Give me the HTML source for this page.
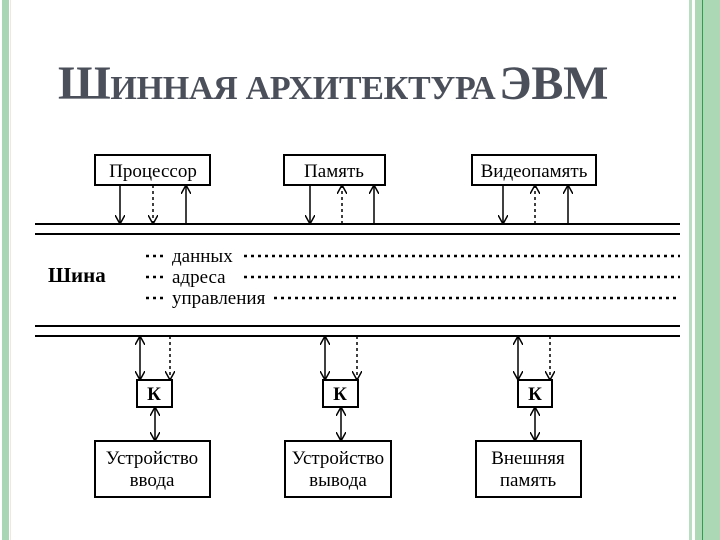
<!DOCTYPE html>
<html><head><meta charset="utf-8"><style>
body{margin:0;width:720px;height:540px;background:#fff;overflow:hidden;position:relative}
.t{position:absolute;left:58px;top:56px;font-family:"Liberation Serif",serif;color:#4a4f5a;font-weight:bold;white-space:nowrap;letter-spacing:-0.3px}
</style></head><body>
<div style="position:absolute;left:2px;top:0;width:7px;height:540px;background:#a9d6b4"></div>
<div style="position:absolute;left:10px;top:0;width:1px;height:540px;background:#f3e6df"></div>
<div style="position:absolute;left:689px;top:0;width:3px;height:540px;background:#b9dcc3"></div>
<div style="position:absolute;left:695px;top:0;width:25px;height:540px;background:#acd8b6"></div>
<div style="position:absolute;left:702px;top:0;width:1px;height:540px;background:#2e9e50"></div>
<div class="t"><span style="font-size:48px">Ш</span><span style="font-size:34px">ИННАЯ АРХИТЕКТУРА</span> <span style="font-size:48px">ЭВМ</span></div>
<svg width="720" height="540" style="position:absolute;left:0;top:0" font-family="Liberation Serif, serif">
<defs>
<marker id="a" markerWidth="10" markerHeight="10" refX="9" refY="5" orient="auto-start-reverse" markerUnits="userSpaceOnUse"><path d="M0,0 L9,5 L0,10" fill="none" stroke="#000" stroke-width="1.5"/></marker>
</defs>
<g fill="none" stroke="#000" stroke-width="2">
<rect x="95" y="155" width="115" height="30"/>
<rect x="284" y="155" width="101" height="30"/>
<rect x="472" y="155" width="124" height="30"/>
<rect x="137" y="380" width="35" height="27"/>
<rect x="323" y="380" width="35" height="27"/>
<rect x="518" y="380" width="34" height="27"/>
<rect x="95" y="441" width="115" height="56"/>
<rect x="285" y="441" width="106" height="56"/>
<rect x="476" y="441" width="105" height="56"/>
<line x1="35" y1="224" x2="680" y2="224"/><line x1="35" y1="234" x2="680" y2="234"/>
<line x1="35" y1="326" x2="680" y2="326"/><line x1="35" y1="336" x2="680" y2="336"/>
</g>
<g stroke="#000" stroke-width="1.5" fill="none">
<line x1="120" y1="185" x2="120" y2="224" marker-end="url(#a)"/>
<line x1="153" y1="185" x2="153" y2="224" stroke-dasharray="3,3" marker-end="url(#a)"/>
<line x1="186" y1="224" x2="186" y2="185" marker-end="url(#a)"/>
<line x1="310" y1="185" x2="310" y2="224" marker-end="url(#a)"/>
<line x1="342" y1="224" x2="342" y2="185" stroke-dasharray="3,3" marker-end="url(#a)"/>
<line x1="374" y1="224" x2="374" y2="185" marker-end="url(#a)"/>
<line x1="503" y1="185" x2="503" y2="224" marker-end="url(#a)"/>
<line x1="535" y1="224" x2="535" y2="185" stroke-dasharray="3,3" marker-end="url(#a)"/>
<line x1="568" y1="224" x2="568" y2="185" marker-end="url(#a)"/>
<line x1="140" y1="336" x2="140" y2="380" marker-start="url(#a)" marker-end="url(#a)"/>
<line x1="170" y1="336" x2="170" y2="380" stroke-dasharray="3,3" marker-end="url(#a)"/>
<line x1="155" y1="407" x2="155" y2="441" marker-start="url(#a)" marker-end="url(#a)"/>
<line x1="325" y1="336" x2="325" y2="380" marker-start="url(#a)" marker-end="url(#a)"/>
<line x1="357" y1="336" x2="357" y2="380" stroke-dasharray="3,3" marker-end="url(#a)"/>
<line x1="341" y1="407" x2="341" y2="441" marker-start="url(#a)" marker-end="url(#a)"/>
<line x1="518" y1="336" x2="518" y2="380" marker-start="url(#a)" marker-end="url(#a)"/>
<line x1="550" y1="336" x2="550" y2="380" stroke-dasharray="3,3" marker-end="url(#a)"/>
<line x1="535" y1="407" x2="535" y2="441" marker-start="url(#a)" marker-end="url(#a)"/>
</g>
<g stroke="#000" stroke-width="2.5" stroke-dasharray="3,4">
<line x1="146" y1="256" x2="166" y2="256"/><line x1="244" y1="256" x2="680" y2="256"/>
<line x1="146" y1="277" x2="166" y2="277"/><line x1="244" y1="277" x2="680" y2="277"/>
<line x1="146" y1="298" x2="166" y2="298"/><line x1="274" y1="298" x2="680" y2="298"/>
</g>
<g font-size="19" fill="#000" text-anchor="middle">
<text x="153" y="177">Процессор</text>
<text x="334" y="177">Память</text>
<text x="534" y="177">Видеопамять</text>
<text x="152" y="464">Устройство</text><text x="152" y="486">ввода</text>
<text x="338" y="464">Устройство</text><text x="338" y="486">вывода</text>
<text x="528" y="464">Внешняя</text><text x="528" y="486">память</text>
<text x="154" y="400" font-weight="bold" font-size="19">К</text>
<text x="340" y="400" font-weight="bold" font-size="19">К</text>
<text x="535" y="400" font-weight="bold" font-size="19">К</text>
</g>
<g font-size="19" fill="#000">
<text x="172" y="262">данных</text>
<text x="172" y="283">адреса</text>
<text x="172" y="304">управления</text>
<text x="48" y="282" font-weight="bold" font-size="21">Шина</text>
</g>
</svg>
</body></html>
